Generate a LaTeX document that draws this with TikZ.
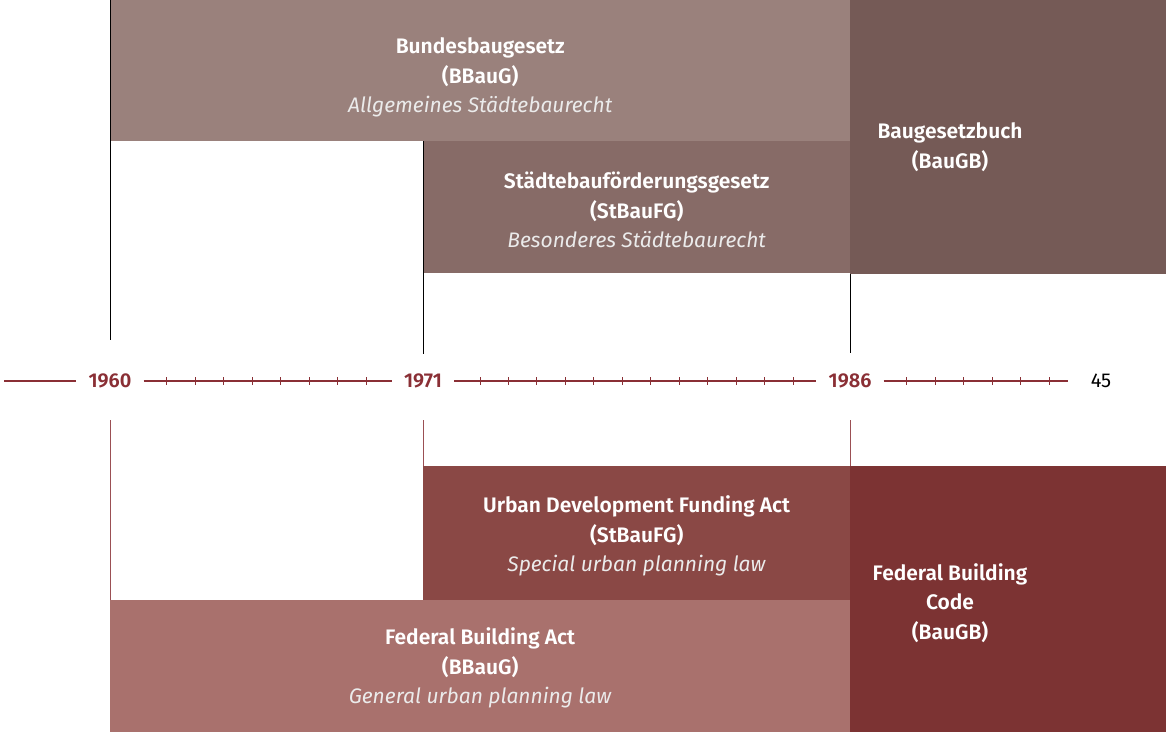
\documentclass[tikz,border=0pt]{standalone}
\usepackage{fontspec}
\setmainfont{Fira Sans}[BoldFont={Fira Sans SemiBold}]
\usetikzlibrary{positioning}
\definecolor{bbaugfill}{HTML}{9A817C}
\definecolor{sbfgfill}{HTML}{876B67}
\definecolor{baugbfill}{HTML}{755A56}
\definecolor{udfafill}{HTML}{8A4845}
\definecolor{fbafill}{HTML}{A9716D}
\definecolor{fbcfill}{HTML}{7C3333}
\definecolor{tlred}{HTML}{8A2F35}
\definecolor{lored}{HTML}{9B4F54}
\tikzset{
  box/.style={anchor=north west, inner sep=0pt},
  lbl/.style={text=white, align=center, inner sep=0pt},
  year/.style={text=tlred, font=\fontsize{20}{20}\selectfont\bfseries, inner xsep=12pt, inner ysep=2pt},
  tl/.style={draw=tlred, line width=1.3pt},
  tick/.style={draw=tlred, line width=0.9pt},
  upline/.style={draw=black, line width=0.9pt},
  loline/.style={draw=lored, line width=0.9pt}
}
\newcommand{\sub}[1]{\textcolor{white!92!black}{\textit{#1}}}
\begin{document}
\begin{tikzpicture}[x=1pt, y=-1pt, font=\fontsize{21}{29.5}\selectfont, line join=round]
  \useasboundingbox (0,0) rectangle (1166,732);
  % upper half: German names
  \node[box, fill=bbaugfill, minimum width=740pt, minimum height=141pt] (bbaug) at (110,0) {};
  \node[box, fill=sbfgfill, minimum width=427pt, minimum height=132pt] (sbfg) at (423,141) {};
  \node[box, fill=baugbfill, minimum width=316pt, minimum height=274pt] (baugb) at (850,0) {};
  \node[lbl] (bbaugtxt) at ([yshift=-7pt]bbaug.center)
    {\textbf{Bundesbaugesetz}\\\textbf{(BBauG)}\\\sub{Allgemeines Städtebaurecht}};
  \node[lbl] (sbfgtxt) at ([yshift=-3pt]sbfg.center)
    {\textbf{Städtebauförderungsgesetz}\\\textbf{(StBauFG)}\\\sub{Besonderes Städtebaurecht}};
  \node[lbl] (baugbtxt) at (950,147) {\textbf{Baugesetzbuch}\\\textbf{(BauGB)}};
  % lower half: English names
  \node[box, fill=udfafill, minimum width=427pt, minimum height=134pt] (udfa) at (423,466) {};
  \node[box, fill=fbafill, minimum width=740pt, minimum height=132pt] (fba) at (110,600) {};
  \node[box, fill=fbcfill, minimum width=316pt, minimum height=266pt] (fbc) at (850,466) {};
  \node[lbl] (udfatxt) at ([yshift=-3pt]udfa.center)
    {\textbf{Urban Development Funding Act}\\\textbf{(StBauFG)}\\\sub{Special urban planning law}};
  \node[lbl] (fbatxt) at ([yshift=-2pt]fba.center)
    {\textbf{Federal Building Act}\\\textbf{(BBauG)}\\\sub{General urban planning law}};
  \node[lbl] (fbctxt) at (950,603) {\textbf{Federal Building}\\\textbf{Code}\\\textbf{(BauGB)}};
  % timeline
  \node[year] (y1960) at (110,381) {1960};
  \node[year] (y1971) at (423,381) {1971};
  \node[year] (y1986) at (850,381) {1986};
  \node (page) at (1101,381) {\fontsize{20}{20}\selectfont 45};
  \coordinate (tlstart) at (4,381);
  \coordinate (tlend) at (1068,381);
  \draw[tl] (tlstart) -- (y1960);
  \draw[tl] (y1960) -- (y1971);
  \draw[tl] (y1971) -- (y1986);
  \draw[tl] (y1986) -- (tlend);
  \foreach \a/\b in {2/9,13/24,28/33}
    \foreach \yr in {\a,...,\b}
      \draw[tick] ({110+\yr*28.46},377) -- ++(0,8);
  % markers from the boxes to the years
  \coordinate (up1960) at (110,340);
  \coordinate (up1971) at (423,354);
  \coordinate (up1986) at (850,353);
  \coordinate (lo1960) at (110,420);
  \coordinate (lo1971) at (423,420);
  \coordinate (lo1986) at (850,420);
  \draw[upline] (bbaug.north west) -- (up1960);
  \draw[upline] (sbfg.north west) -- (up1971);
  \draw[upline] (baugb.south west) -- (up1986);
  \draw[loline] (lo1960) -- (fba.north west);
  \draw[loline] (lo1971) -- (udfa.north west);
  \draw[loline] (lo1986) -- (fbc.north west);
\end{tikzpicture}
\end{document}
